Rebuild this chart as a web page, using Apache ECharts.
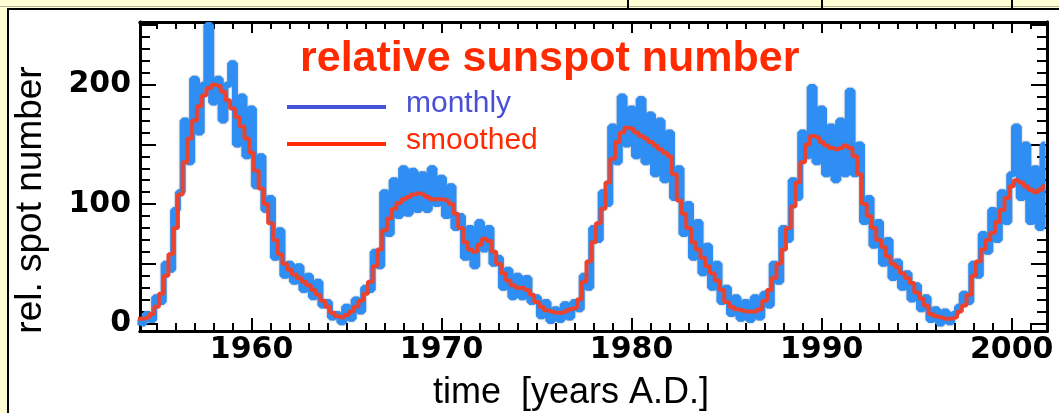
<!DOCTYPE html>
<html lang="en">
<head>
  <meta charset="UTF-8">
  <title>relative sunspot number</title>
  <script src="https://cdn.jsdelivr.net/npm/echarts@6/dist/echarts.min.js"></script>
  <style>
    html, body { margin: 0; padding: 0; background: #fffdd3; overflow: hidden; }
    /* white picture frame inside the yellow table cell */
    .panel {
      position: absolute; left: 7px; top: 8px; width: 1060px; height: 410px;
      background: #fff; border-left: 2px solid #000; border-top: 2px solid #000;
    }
    .rule { position: absolute; left: 0; top: 6px; width: 1059px; height: 1px; background: #b5b39a; }
    .col { position: absolute; top: 0; width: 2px; height: 8px; background: #000; }
    #chart { position: absolute; left: 0; top: 0; width: 1059px; height: 413px; }
  </style>
</head>
<body>
  <div class="rule"></div>
  <div class="col" style="left:627px"></div>
  <div class="col" style="left:821px"></div>
  <div class="col" style="left:1011px"></div>
  <div class="panel"></div>
  <div id="chart"></div>
  <script>
    // samples every quarter year, first one at 1954.0
    const startYear = 1954;
    const stepYears = 0.25;

    // monthly relative sunspot number (blue)
    const monthly = [
      1, 0, 8, 3,          // 1954
      22, 18, 50, 45,      // 1955
      95, 110, 170, 135,   // 1956
      205, 160, 200, 250,  // 1957
      185, 205, 170, 200,  // 1958
      218, 150, 190, 140,  // 1959
      180, 115, 140, 95,   // 1960
      105, 55, 78, 40,     // 1961
      50, 35, 48, 28,      // 1962
      40, 22, 35, 15,      // 1963
      18, 5, 8, 1,         // 1964
      14, 4, 20, 10,       // 1965
      30, 28, 60, 48,      // 1966
      110, 75, 120, 90,    // 1967
      130, 92, 128, 95,    // 1968
      125, 95, 130, 100,   // 1969
      122, 90, 115, 80,    // 1970
      90, 55, 80, 48,      // 1971
      85, 62, 80, 50,      // 1972
      55, 30, 45, 22,      // 1973
      40, 22, 38, 18,      // 1974
      22, 6, 18, 2,        // 1975
      12, 3, 16, 5,        // 1976
      18, 12, 40, 30,      // 1977
      80, 70, 110, 100,    // 1978
      165, 135, 190, 150,  // 1979
      180, 140, 188, 135,  // 1980
      175, 125, 170, 120,  // 1981
      160, 105, 130, 75,   // 1982
      100, 55, 85, 42,     // 1983
      65, 30, 50, 18,      // 1984
      30, 8, 22, 4,        // 1985
      18, 3, 22, 5,        // 1986
      25, 15, 50, 35,      // 1987
      80, 70, 120, 105,    // 1988
      160, 140, 198, 135,  // 1989
      180, 125, 165, 120,  // 1990
      170, 125, 195, 125,  // 1991
      150, 85, 105, 65,    // 1992
      85, 50, 70, 38,      // 1993
      52, 30, 42, 20,      // 1994
      32, 12, 22, 3,       // 1995
      12, 0, 10, 1,        // 1996
      8, 14, 25, 18,       // 1997
      50, 40, 75, 60,      // 1998
      95, 70, 110, 85,     // 1999
      125, 165, 105, 150,  // 2000
      85, 130, 80, 150     // 2001
    ];

    // smoothed relative sunspot number (red)
    const smoothed = [
      4, 4, 5, 8,          // 1954
      14, 25, 40, 58,      // 1955
      80, 108, 135, 155,   // 1956
      170, 182, 191, 197,  // 1957
      200, 199, 194, 187,  // 1958
      180, 173, 165, 155,  // 1959
      143, 128, 113, 100,  // 1960
      84, 70, 58, 50,      // 1961
      45, 41, 38, 35,      // 1962
      32, 28, 24, 19,      // 1963
      14, 9, 6, 5,         // 1964
      7, 10, 14, 19,       // 1965
      25, 35, 48, 62,      // 1966
      78, 88, 96, 101,     // 1967
      104, 106, 108, 109,  // 1968
      108, 106, 104, 104,  // 1969
      104, 103, 100, 92,   // 1970
      80, 68, 62, 60,      // 1971
      66, 71, 69, 60,      // 1972
      50, 42, 36, 32,      // 1973
      30, 30, 28, 24,      // 1974
      18, 14, 11, 10,      // 1975
      9, 9, 10, 12,        // 1976
      13, 20, 35, 52,      // 1977
      68, 84, 96, 118,     // 1978
      138, 152, 160, 164,  // 1979
      163, 160, 157, 155,  // 1980
      152, 149, 146, 143,  // 1981
      140, 125, 103, 92,   // 1982
      80, 68, 62, 55,      // 1983
      48, 42, 36, 28,      // 1984
      18, 14, 12, 11,      // 1985
      10, 10, 10, 12,      // 1986
      19, 28, 38, 50,      // 1987
      62, 80, 98, 118,     // 1988
      135, 150, 157, 156,  // 1989
      152, 149, 147, 146,  // 1990
      147, 149, 147, 140,  // 1991
      125, 100, 90, 80,    // 1992
      70, 64, 56, 50,      // 1993
      47, 42, 38, 34,      // 1994
      26, 21, 15, 8,       // 1995
      6, 5, 4, 4,          // 1996
      5, 10, 15, 24,       // 1997
      40, 52, 62, 70,      // 1998
      76, 85, 95, 105,     // 1999
      115, 120, 118, 115,  // 2000
      112, 110, 112, 115   // 2001
    ];

    const xTickLabels = [1960, 1970, 1980, 1990, 2000];
    const yTickLabels = [0, 100, 200];

    const xMin = 1954.13, xMax = 2001.86;
    const yMin = -6.3, yMax = 252.5;

    const toPairs = arr => arr.map((v, i) => [startYear + i * stepYears, v]);

    // one small tick per year, long ones per decade
    const yearTicks = [];
    for (let y = 1955; y <= 2001; y++) yearTicks.push(y);
    // small tick every 10, long every 50
    const tenTicks = [];
    for (let v = 0; v <= 250; v += 10) tenTicks.push(v);
    const fiftyTicks = tenTicks.filter(v => v % 50 === 0);

    const labelFont = {
      color: '#000', fontFamily: 'DejaVu Sans', fontWeight: 'bold', fontSize: 30,
      formatter: v => String(v)
    };

    function axis(position, min, max, ticks, len, labels, margin) {
      return {
        type: 'value', position, min, max,
        axisLine: { show: true, onZero: false, lineStyle: { color: '#000', width: 3 } },
        axisTick: { show: true, inside: true, length: len, customValues: ticks,
                    lineStyle: { color: '#000', width: 2 } },
        axisLabel: labels ? Object.assign({ show: true, customValues: labels, margin }, labelFont)
                          : { show: false },
        splitLine: { show: false }
      };
    }

    const chart = echarts.init(document.getElementById('chart'), null, { renderer: 'canvas' });

    const option = {
      animation: false,
      backgroundColor: 'transparent',
      grid: { left: 140, right: 12, top: 22, bottom: 82 },
      xAxis: [
        axis('bottom', xMin, xMax, yearTicks, 8, xTickLabels, 4),
        axis('bottom', xMin, xMax, xTickLabels, 13),
        axis('top', xMin, xMax, yearTicks, 7),
        axis('top', xMin, xMax, xTickLabels, 11)
      ],
      yAxis: [
        axis('left', yMin, yMax, tenTicks, 10, yTickLabels, 9),
        axis('left', yMin, yMax, fiftyTicks, 16),
        axis('right', yMin, yMax, tenTicks, 10),
        axis('right', yMin, yMax, fiftyTicks, 16)
      ],
      series: [
        {
          name: 'monthly', type: 'line', step: 'middle', showSymbol: false,
          data: toPairs(monthly), z: 2,
          lineStyle: { color: '#2f8ef3', width: 6, shadowColor: 'rgba(0,0,0,0.35)', shadowBlur: 2 }
        },
        {
          name: 'smoothed', type: 'line', step: 'middle', showSymbol: false,
          data: toPairs(smoothed), z: 3,
          lineStyle: { color: '#ea4430', width: 4 }
        }
      ],
      graphic: [
        { type: 'text', x: 300, y: 59,
          style: { text: 'relative sunspot number', fill: '#ff2a00', verticalAlign: 'middle',
                   font: 'bold 43px "Liberation Sans", Arial, sans-serif' } },
        { type: 'line', shape: { x1: 287, y1: 107, x2: 386, y2: 107 },
          style: { stroke: '#4652d9', lineWidth: 4 } },
        { type: 'text', x: 406, y: 104,
          style: { text: 'monthly', fill: '#4a50d6', verticalAlign: 'middle',
                   font: '30px "Liberation Sans", Arial, sans-serif' } },
        { type: 'line', shape: { x1: 287, y1: 144, x2: 386, y2: 144 },
          style: { stroke: '#ff2a00', lineWidth: 4 } },
        { type: 'text', x: 406, y: 141,
          style: { text: 'smoothed', fill: '#ff2a00', verticalAlign: 'middle',
                   font: '30px "Liberation Sans", Arial, sans-serif' } },
        { type: 'text', x: 433, y: 393,
          style: { text: 'time  [years A.D.]', fill: '#000', verticalAlign: 'middle',
                   font: '36px "Liberation Sans", Arial, sans-serif' } },
        { type: 'text', x: 31, y: 200, rotation: Math.PI / 2,
          style: { text: 'rel. spot number', fill: '#000', align: 'center', verticalAlign: 'middle',
                   font: '37px "Liberation Sans", Arial, sans-serif' } }
      ]
    };

    chart.setOption(option);
  </script>
</body>
</html>
